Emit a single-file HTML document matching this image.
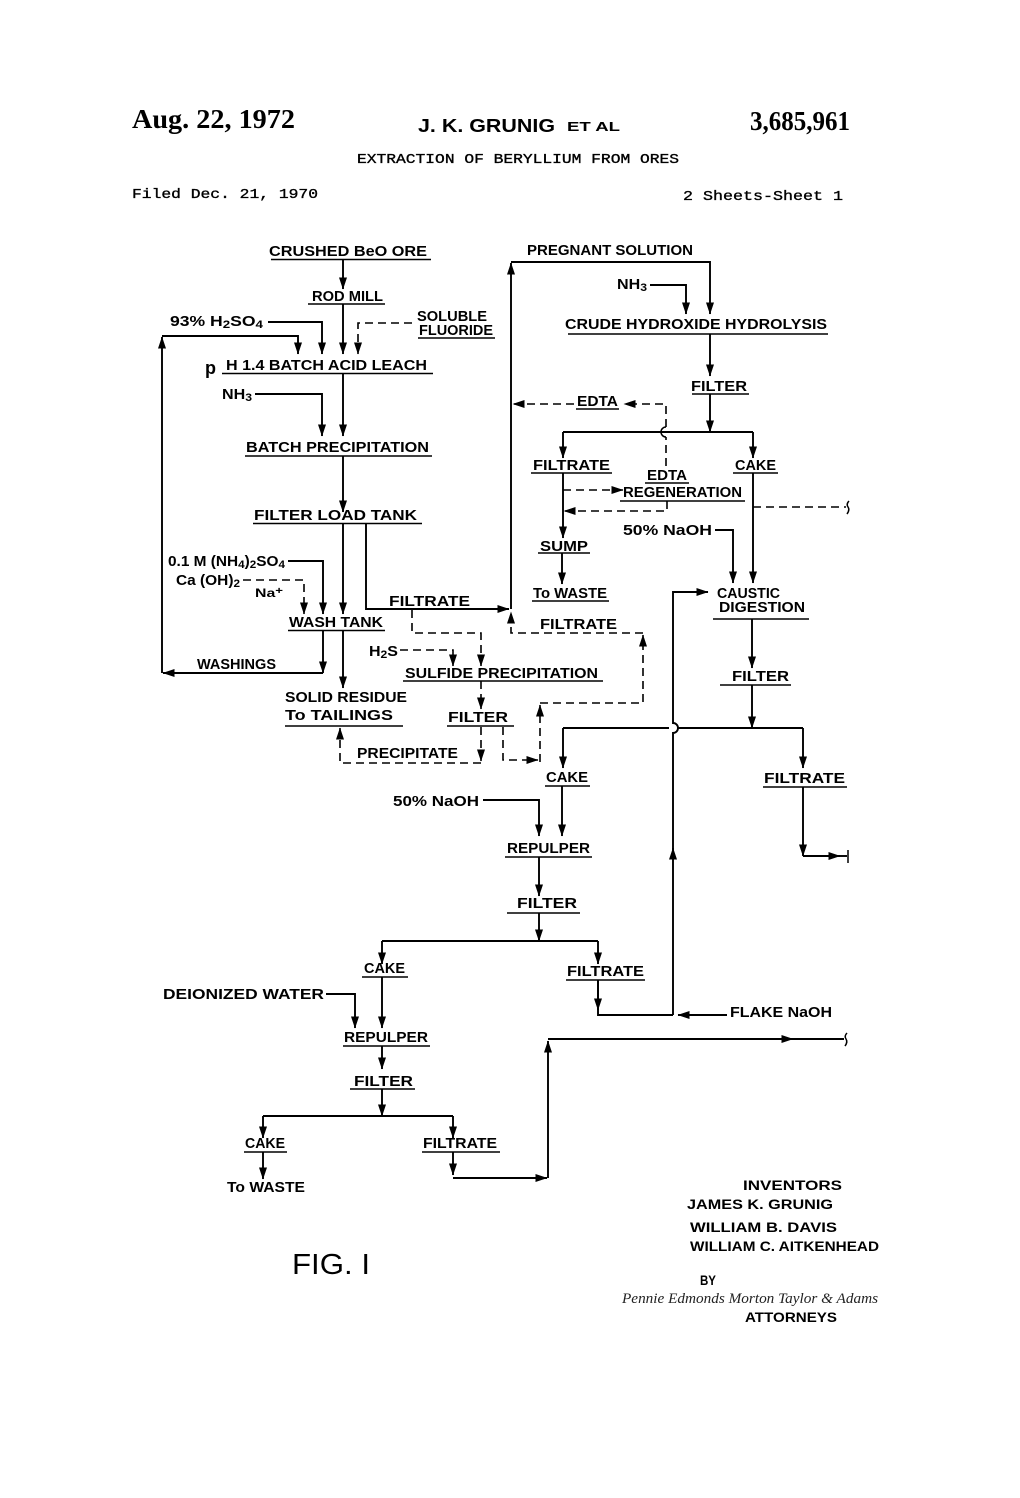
<!DOCTYPE html>
<html><head><meta charset="utf-8">
<style>
html,body{margin:0;padding:0;background:#fff;}
svg{display:block;}
.l{font-family:"Liberation Sans",sans-serif;font-weight:bold;font-size:14.5px;fill:#000;}
.s{stroke:#000;stroke-width:1.9;fill:none;}
.u{stroke:#000;stroke-width:1.5;fill:none;}
.d{stroke:#000;stroke-width:1.6;fill:none;stroke-dasharray:8,5;}
.m{font-family:"Liberation Mono",monospace;font-size:14px;fill:#000;stroke:#000;stroke-width:0.35;}
.ser{font-family:"Liberation Serif",serif;font-weight:bold;font-size:27px;fill:#000;}
.inv{font-family:"Liberation Sans",sans-serif;font-weight:bold;font-size:13.5px;fill:#000;}
</style></head>
<body>
<svg width="1020" height="1498" viewBox="0 0 1020 1498" xmlns="http://www.w3.org/2000/svg">
<defs>
<marker id="a" markerWidth="12" markerHeight="8" refX="11.5" refY="4" orient="auto" markerUnits="userSpaceOnUse">
<path d="M0,0 L12,4 L0,8 z" fill="#000"/>
</marker>
</defs>
<rect width="1020" height="1498" fill="#fff"/>

<!-- Header -->
<text class="ser" x="132" y="128" textLength="163" lengthAdjust="spacingAndGlyphs">Aug. 22, 1972</text>
<text x="418" y="132" textLength="137" lengthAdjust="spacingAndGlyphs" style="font-family:'Liberation Sans',sans-serif;font-weight:bold;font-size:18px">J. K. GRUNIG</text>
<text x="567" y="131" textLength="53" lengthAdjust="spacingAndGlyphs" style="font-family:'Liberation Sans',sans-serif;font-weight:bold;font-size:13px">ET AL</text>
<text class="ser" x="750" y="130" textLength="100" lengthAdjust="spacingAndGlyphs">3,685,961</text>
<text class="m" x="357" y="163" textLength="322" lengthAdjust="spacingAndGlyphs">EXTRACTION OF BERYLLIUM FROM ORES</text>
<text class="m" x="132" y="198" textLength="186" lengthAdjust="spacingAndGlyphs">Filed Dec. 21, 1970</text>
<text class="m" x="683" y="200" textLength="160" lengthAdjust="spacingAndGlyphs">2 Sheets-Sheet 1</text>

<!-- ===== LEFT COLUMN ===== -->
<text class="l" x="269" y="256" textLength="158" lengthAdjust="spacingAndGlyphs">CRUSHED BeO ORE</text>
<path class="u" d="M271,259.5 H431"/>
<path class="s" d="M343,260 V289" marker-end="url(#a)"/>

<text class="l" x="312" y="301" textLength="71" lengthAdjust="spacingAndGlyphs">ROD MILL</text>
<path class="u" d="M308,304 H385"/>
<path class="s" d="M343,304 V354" marker-end="url(#a)"/>

<text class="l" x="170" y="326" textLength="93" lengthAdjust="spacingAndGlyphs">93% H<tspan font-size="11" dy="2">2</tspan><tspan dy="-2">SO</tspan><tspan font-size="11" dy="2">4</tspan></text>
<path class="s" d="M268,322 H322 V354" marker-end="url(#a)"/>

<!-- feedback loop -->
<path class="s" d="M162,673 V337" marker-end="url(#a)"/>
<path class="s" d="M162,336 H298 V354" marker-end="url(#a)"/>

<text class="l" x="417" y="321" textLength="70" lengthAdjust="spacingAndGlyphs">SOLUBLE</text>
<text class="l" x="419" y="335" textLength="74" lengthAdjust="spacingAndGlyphs">FLUORIDE</text>
<path class="u" d="M418,338 H495"/>
<path class="d" d="M412,323 H358 V354" marker-end="url(#a)"/>

<text class="l" x="205" y="374" style="font-size:18px">p</text>
<text class="l" x="226" y="370" textLength="201" lengthAdjust="spacingAndGlyphs">H 1.4  BATCH  ACID LEACH</text>
<path class="u" d="M222,373.5 H433"/>
<path class="s" d="M343,374 V436" marker-end="url(#a)"/>

<text class="l" x="222" y="399" textLength="30" lengthAdjust="spacingAndGlyphs">NH<tspan font-size="11" dy="2">3</tspan></text>
<path class="s" d="M255,394 H322 V436" marker-end="url(#a)"/>

<text class="l" x="246" y="452" textLength="183" lengthAdjust="spacingAndGlyphs">BATCH  PRECIPITATION</text>
<path class="u" d="M245,456 H432"/>
<path class="s" d="M343,456 V512" marker-end="url(#a)"/>

<text class="l" x="254" y="520" textLength="163" lengthAdjust="spacingAndGlyphs">FILTER  LOAD  TANK</text>
<path class="u" d="M253,523.5 H422"/>
<path class="s" d="M343,524 V614" marker-end="url(#a)"/>
<path class="s" d="M366,524 V609 H509" marker-end="url(#a)"/>
<text class="l" x="389" y="606" textLength="81" lengthAdjust="spacingAndGlyphs">FILTRATE</text>

<text class="l" x="168" y="566" textLength="117" lengthAdjust="spacingAndGlyphs">0.1 M (NH<tspan font-size="11" dy="2">4</tspan><tspan dy="-2">)</tspan><tspan font-size="11" dy="2">2</tspan><tspan dy="-2">SO</tspan><tspan font-size="11" dy="2">4</tspan></text>
<path class="s" d="M288,561 H323 V614" marker-end="url(#a)"/>
<text class="l" x="176" y="585" textLength="64" lengthAdjust="spacingAndGlyphs">Ca (OH)<tspan font-size="11" dy="2">2</tspan></text>
<path class="d" d="M243,580 H304 V614" marker-end="url(#a)"/>
<text class="l" x="255" y="597" textLength="28" lengthAdjust="spacingAndGlyphs" style="font-size:12px">Na<tspan dy="-3" font-size="10">+</tspan></text>

<text class="l" x="289" y="627" textLength="94" lengthAdjust="spacingAndGlyphs">WASH  TANK</text>
<path class="u" d="M288,630.5 H385"/>
<path class="s" d="M323,631 V673" marker-end="url(#a)"/>
<path class="s" d="M323,673 H163" marker-end="url(#a)"/>
<text class="l" x="197" y="669" textLength="79" lengthAdjust="spacingAndGlyphs">WASHINGS</text>
<path class="s" d="M343,631 V688" marker-end="url(#a)"/>
<text class="l" x="285" y="702" textLength="122" lengthAdjust="spacingAndGlyphs">SOLID  RESIDUE</text>
<text class="l" x="285" y="720" textLength="108" lengthAdjust="spacingAndGlyphs">To  TAILINGS</text>
<path class="u" d="M285,726 H403"/>

<!-- sulfide branch -->
<path class="d" d="M412,610 V633 H481 V666" marker-end="url(#a)"/>
<text class="l" x="369" y="656" textLength="29" lengthAdjust="spacingAndGlyphs">H<tspan font-size="11" dy="2">2</tspan><tspan dy="-2">S</tspan></text>
<path class="d" d="M400,650 H453 V666" marker-end="url(#a)"/>
<text class="l" x="405" y="678" textLength="193" lengthAdjust="spacingAndGlyphs">SULFIDE  PRECIPITATION</text>
<path class="u" d="M403,681 H603"/>
<path class="d" d="M481,681 V709" marker-end="url(#a)"/>
<text class="l" x="448" y="722" textLength="60" lengthAdjust="spacingAndGlyphs">FILTER</text>
<path class="u" d="M447,726 H514"/>
<path class="d" d="M481,727 V761" marker-end="url(#a)"/>
<path class="d" d="M481,763 H340 V728" marker-end="url(#a)"/>
<text class="l" x="357" y="758" textLength="101" lengthAdjust="spacingAndGlyphs">PRECIPITATE</text>
<path class="d" d="M503,727 V760 H538" marker-end="url(#a)"/>
<path class="d" d="M540,762 V705" marker-end="url(#a)"/>
<path class="d" d="M540,703 H643 V635" marker-end="url(#a)"/>
<path class="d" d="M643,633 H511 V612" marker-end="url(#a)"/>
<text class="l" x="540" y="629" textLength="77" lengthAdjust="spacingAndGlyphs">FILTRATE</text>

<!-- ===== RIGHT COLUMN ===== -->
<text class="l" x="527" y="255" textLength="166" lengthAdjust="spacingAndGlyphs">PREGNANT  SOLUTION</text>
<path class="s" d="M511,609 V263" marker-end="url(#a)"/>
<path class="s" d="M511,262 H710 V314" marker-end="url(#a)"/>
<text class="l" x="617" y="289" textLength="30" lengthAdjust="spacingAndGlyphs">NH<tspan font-size="11" dy="2">3</tspan></text>
<path class="s" d="M650,285 H686 V314" marker-end="url(#a)"/>
<text class="l" x="565" y="329" textLength="262" lengthAdjust="spacingAndGlyphs">CRUDE  HYDROXIDE  HYDROLYSIS</text>
<path class="u" d="M568,334 H828"/>
<path class="s" d="M710,334 V376" marker-end="url(#a)"/>
<text class="l" x="691" y="391" textLength="56" lengthAdjust="spacingAndGlyphs">FILTER</text>
<path class="u" d="M692,394 H749"/>
<path class="s" d="M710,394 V432" marker-end="url(#a)"/>
<path class="s" d="M563,432 H753"/>
<path class="s" d="M563,432 V458" marker-end="url(#a)"/>
<path class="s" d="M753,432 V458" marker-end="url(#a)"/>
<text class="l" x="533" y="470" textLength="77" lengthAdjust="spacingAndGlyphs">FILTRATE</text>
<path class="u" d="M531,473 H612"/>
<text class="l" x="735" y="470" textLength="41" lengthAdjust="spacingAndGlyphs">CAKE</text>
<path class="u" d="M733,473 H778"/>

<!-- EDTA loop -->
<path class="d" d="M666,466 V437"/>
<path class="u" d="M666,437 A5,5 0 0 1 666,427"/>
<path class="d" d="M666,427 V404 H624" marker-end="url(#a)"/>
<text class="l" x="577" y="406" textLength="41" lengthAdjust="spacingAndGlyphs">EDTA</text>
<path class="u" d="M576,409 H619"/>
<path class="d" d="M574,404 H513" marker-end="url(#a)"/>
<text class="l" x="647" y="480" textLength="40" lengthAdjust="spacingAndGlyphs">EDTA</text>
<path class="u" d="M645,483 H689"/>
<text class="l" x="623" y="497" textLength="119" lengthAdjust="spacingAndGlyphs">REGENERATION</text>
<path class="u" d="M620,501 H745"/>
<path class="d" d="M563,490 H623" marker-end="url(#a)"/>
<path class="d" d="M667,501 V511 H564" marker-end="url(#a)"/>

<path class="s" d="M563,473 V538" marker-end="url(#a)"/>
<text class="l" x="540" y="551" textLength="48" lengthAdjust="spacingAndGlyphs">SUMP</text>
<path class="u" d="M538,553 H590"/>
<path class="s" d="M562,553 V584" marker-end="url(#a)"/>
<text class="l" x="533" y="598" textLength="74" lengthAdjust="spacingAndGlyphs">To WASTE</text>
<path class="u" d="M532,601 H609"/>

<text class="l" x="623" y="535" textLength="89" lengthAdjust="spacingAndGlyphs">50% NaOH</text>
<path class="s" d="M715,530 H733 V583" marker-end="url(#a)"/>
<path class="s" d="M753,473 V583" marker-end="url(#a)"/>
<path class="d" d="M753,507 H846"/>
<path class="u" d="M849,501 q-3,3 -1,6 q2,3 -1,7"/>

<text class="l" x="717" y="598" textLength="63" lengthAdjust="spacingAndGlyphs">CAUSTIC</text>
<text class="l" x="719" y="612" textLength="86" lengthAdjust="spacingAndGlyphs">DIGESTION</text>
<path class="u" d="M713,619 H809"/>

<!-- long vertical x=673 -->
<path class="s" d="M673,1015 V848" marker-end="url(#a)"/>
<path class="s" d="M673,850 V733 A5,5 0 0 0 673,723 V592 H708" marker-end="url(#a)"/>

<path class="s" d="M752,619 V668" marker-end="url(#a)"/>
<text class="l" x="732" y="681" textLength="57" lengthAdjust="spacingAndGlyphs">FILTER</text>
<path class="u" d="M720,685 H791"/>
<path class="s" d="M752,685 V728" marker-end="url(#a)"/>
<path class="s" d="M563,728 H669"/>
<path class="s" d="M677,728 H803"/>
<path class="s" d="M563,728 V768" marker-end="url(#a)"/>
<path class="s" d="M803,728 V768" marker-end="url(#a)"/>
<text class="l" x="546" y="782" textLength="42" lengthAdjust="spacingAndGlyphs">CAKE</text>
<path class="u" d="M545,786 H590"/>
<text class="l" x="764" y="783" textLength="81" lengthAdjust="spacingAndGlyphs">FILTRATE</text>
<path class="u" d="M763,787 H847"/>
<path class="s" d="M803,787 V856" marker-end="url(#a)"/>
<path class="s" d="M803,856 H840" marker-end="url(#a)"/>
<path class="s" d="M840,856 H847"/>
<path class="u" d="M848,850 V863"/>

<path class="s" d="M562,786 V836" marker-end="url(#a)"/>
<text class="l" x="393" y="806" textLength="86" lengthAdjust="spacingAndGlyphs">50% NaOH</text>
<path class="s" d="M483,800 H539 V836" marker-end="url(#a)"/>
<text class="l" x="507" y="853" textLength="83" lengthAdjust="spacingAndGlyphs">REPULPER</text>
<path class="u" d="M505,857 H592"/>
<path class="s" d="M539,857 V896" marker-end="url(#a)"/>
<text class="l" x="517" y="908" textLength="60" lengthAdjust="spacingAndGlyphs">FILTER</text>
<path class="u" d="M507,913 H580"/>
<path class="s" d="M539,913 V941" marker-end="url(#a)"/>
<path class="s" d="M382,941 H598"/>
<path class="s" d="M382,941 V964" marker-end="url(#a)"/>
<path class="s" d="M598,941 V964" marker-end="url(#a)"/>

<text class="l" x="364" y="973" textLength="41" lengthAdjust="spacingAndGlyphs">CAKE</text>
<path class="u" d="M362,977 H408"/>
<text class="l" x="567" y="976" textLength="77" lengthAdjust="spacingAndGlyphs">FILTRATE</text>
<path class="u" d="M566,980 H645"/>
<path class="s" d="M598,980 V1015 H673"/>
<path class="s" d="M598,980 V1010" marker-end="url(#a)"/>
<path class="s" d="M727,1015 H678" marker-end="url(#a)"/>
<text class="l" x="730" y="1017" textLength="102" lengthAdjust="spacingAndGlyphs">FLAKE  NaOH</text>

<text class="l" x="163" y="999" textLength="161" lengthAdjust="spacingAndGlyphs">DEIONIZED  WATER</text>
<path class="s" d="M326,994 H355 V1028" marker-end="url(#a)"/>
<path class="s" d="M382,977 V1028" marker-end="url(#a)"/>
<text class="l" x="344" y="1042" textLength="84" lengthAdjust="spacingAndGlyphs">REPULPER</text>
<path class="u" d="M343,1046 H430"/>
<path class="s" d="M382,1046 V1069" marker-end="url(#a)"/>
<text class="l" x="354" y="1086" textLength="59" lengthAdjust="spacingAndGlyphs">FILTER</text>
<path class="u" d="M350,1089 H415"/>
<path class="s" d="M382,1089 V1116" marker-end="url(#a)"/>
<path class="s" d="M263,1116 H453"/>
<path class="s" d="M263,1116 V1138" marker-end="url(#a)"/>
<path class="s" d="M453,1116 V1138" marker-end="url(#a)"/>
<text class="l" x="245" y="1148" textLength="40" lengthAdjust="spacingAndGlyphs">CAKE</text>
<path class="u" d="M244,1152 H287"/>
<text class="l" x="423" y="1148" textLength="74" lengthAdjust="spacingAndGlyphs">FILTRATE</text>
<path class="u" d="M422,1152 H500"/>
<path class="s" d="M263,1152 V1179" marker-end="url(#a)"/>
<text class="l" x="227" y="1192" textLength="78" lengthAdjust="spacingAndGlyphs">To WASTE</text>
<path class="s" d="M453,1152 V1175" marker-end="url(#a)"/>
<path class="s" d="M453,1178 H547" marker-end="url(#a)"/>
<path class="s" d="M548,1178 V1041" marker-end="url(#a)"/>
<path class="s" d="M548,1039 H793" marker-end="url(#a)"/>
<path class="s" d="M793,1039 H844"/>
<path class="u" d="M847,1033 q-3,3 -1,6 q2,3 -1,7"/>

<!-- FIG -->
<text x="292" y="1274" textLength="78" lengthAdjust="spacingAndGlyphs" style="font-family:'Liberation Sans',sans-serif;font-size:29px;fill:#000">FIG. I</text>

<!-- Inventors -->
<text class="inv" x="743" y="1190" textLength="99" lengthAdjust="spacingAndGlyphs">INVENTORS</text>
<text class="inv" x="687" y="1209" textLength="146" lengthAdjust="spacingAndGlyphs">JAMES  K. GRUNIG</text>
<text class="inv" x="690" y="1232" textLength="147" lengthAdjust="spacingAndGlyphs">WILLIAM  B. DAVIS</text>
<text class="inv" x="690" y="1251" textLength="189" lengthAdjust="spacingAndGlyphs">WILLIAM  C. AITKENHEAD</text>
<text class="inv" x="700" y="1285" textLength="16" lengthAdjust="spacingAndGlyphs">BY</text>
<text x="622" y="1303" textLength="256" lengthAdjust="spacingAndGlyphs" style="font-family:'Liberation Serif',serif;font-style:italic;font-size:15px;fill:#222">Pennie Edmonds Morton Taylor &amp; Adams</text>
<text class="inv" x="745" y="1322" textLength="92" lengthAdjust="spacingAndGlyphs">ATTORNEYS</text>
</svg>
</body></html>
